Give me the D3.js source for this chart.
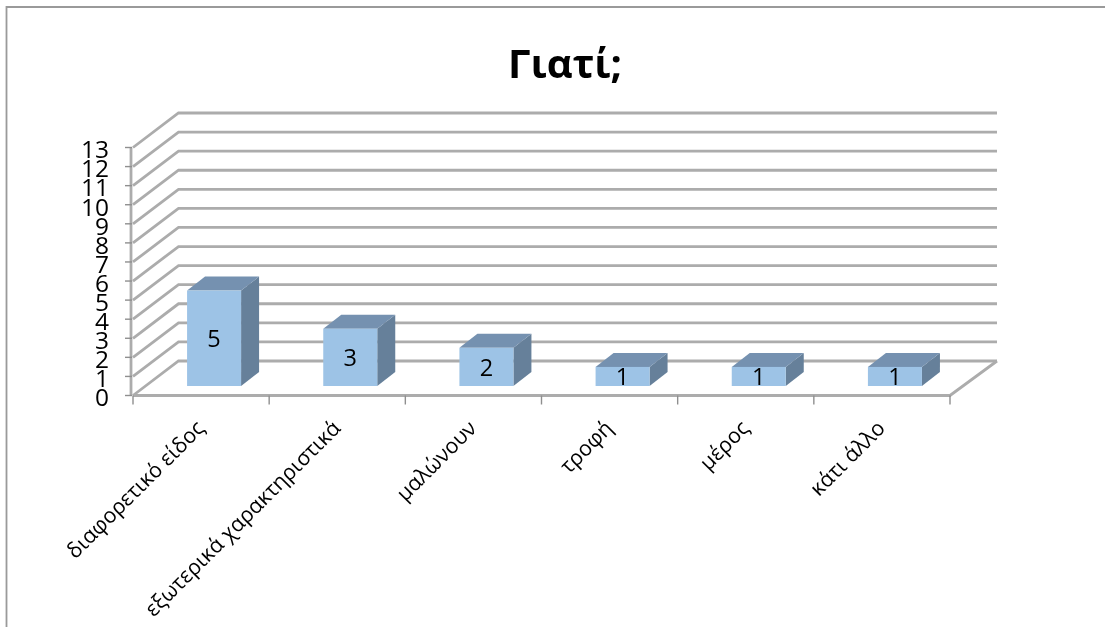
<!DOCTYPE html>
<html><head><meta charset="utf-8">
<script src="https://cdn.jsdelivr.net/npm/d3@7"></script>
<style>html,body{margin:0;padding:0;background:#fff}svg{display:block}</style>
</head><body><div id="c"></div>
<script>
const titleText = "Γιατί;";
const categories = ["διαφορετικό είδος","εξωτερικά χαρακτηριστικά","μαλώνουν","τροφή","μέρος","κάτι άλλο"];
const values = [5,3,2,1,1,1];
const yTicks = [0,1,2,3,4,5,6,7,8,9,10,11,12,13];

const W=1105,H=627;
const font="'Open Sans','Noto Sans',sans-serif";
const svg=d3.select("#c").append("svg").attr("width",W).attr("height",H);
const defs=svg.append("defs");
defs.append("filter").attr("id","soft").attr("filterUnits","userSpaceOnUse")
  .attr("x",0).attr("y",0).attr("width",W).attr("height",H)
  .append("feGaussianBlur").attr("stdDeviation",0.7);
const root=svg.append("g").attr("filter","url(#soft)");

const x=d3.scaleBand().domain(categories).range([133,950]).paddingInner(0).paddingOuter(0);
const y=d3.scaleLinear().domain([0,13]).range([395.5,147.5]);
const depthX=45.5, depthY=-34.5;
const gridColor="#acacac";

root.append("path").attr("d",`M${W},7H6.5V${H}`).attr("fill","none").attr("stroke","#9a9a9a").attr("stroke-width",1.8);

const grid=root.append("g").attr("fill","none").attr("stroke",gridColor).attr("stroke-width",2.8);
yTicks.forEach(t=>{
  grid.append("path").attr("d",`M${x.range()[0]},${y(t)}L${x.range()[0]+depthX},${y(t)+depthY}H${x.range()[1]+depthX+1.5}`);
});
grid.append("path").attr("d",`M${x.range()[0]},${y(0)}H${x.range()[1]}L${x.range()[1]+depthX+1.5},${y(0)+depthY}`);
grid.append("path").attr("d",`M${x.range()[0]-2},${y(13)}V${y(0)}`);

const ax=root.append("g").attr("stroke","#8f8f8f").attr("stroke-width",1.4);
yTicks.forEach(t=>ax.append("line").attr("x1",125).attr("x2",132).attr("y1",y(t)).attr("y2",y(t)));
[...categories.map(c=>x(c)),x.range()[1]].forEach(v=>ax.append("line").attr("x1",v).attr("x2",v).attr("y1",y(0)).attr("y2",y(0)+9));

root.append("g").selectAll("text").data(yTicks).join("text")
  .attr("x",109).attr("y",d=>y(d)+2).attr("dy","0.36em").attr("text-anchor","end")
  .attr("font-family",font).attr("font-size",24.5).attr("fill","#000").text(d=>d);

const barW=54, shiftX=13, shiftY=-9.5, barDX=18, barDY=-14;
const bars=root.append("g").selectAll("g").data(categories.map((c,i)=>({c,v:values[i]}))).join("g");
const bx=d=>x(d.c)+x.bandwidth()/2+shiftX-barW/2;
const by=d=>y(d.v)+shiftY;
const b0=y(0)+shiftY;
bars.append("path").attr("fill","#66809a")
  .attr("d",d=>`M${bx(d)+barW},${by(d)}l${barDX},${barDY}V${b0+barDY}l${-barDX},${-barDY}Z`);
bars.append("path").attr("fill","#7591b0")
  .attr("d",d=>`M${bx(d)},${by(d)}l${barDX},${barDY}h${barW}l${-barDX},${-barDY}Z`);
bars.append("rect").attr("fill","#9dc3e6")
  .attr("x",bx).attr("y",by).attr("width",barW).attr("height",d=>b0-by(d));
bars.append("text").attr("x",d=>bx(d)+barW/2).attr("y",d=>(by(d)+b0)/2+0.5).attr("dy","0.36em").attr("text-anchor","middle")
  .attr("font-family",font).attr("font-size",23.5).attr("fill","#000").text(d=>d.v);

root.append("g").selectAll("text").data(categories).join("text")
  .attr("transform",c=>`translate(${x(c)+x.bandwidth()/2},425) rotate(-45)`)
  .attr("text-anchor","end").attr("dy","0.3em")
  .attr("font-family",font).attr("font-size",21.3).attr("fill","#000").text(c=>c);

root.append("text").attr("x",565).attr("y",78).attr("text-anchor","middle")
  .attr("font-family",font).attr("font-weight",700).attr("font-size",40).attr("fill","#000").text(titleText);
</script></body></html>
